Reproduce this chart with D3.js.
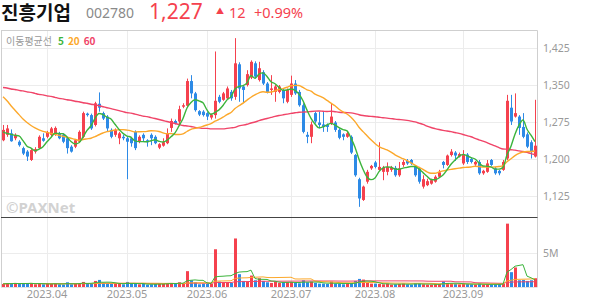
<!DOCTYPE html>
<html>
<head>
<meta charset="utf-8">
<script src="https://cdn.jsdelivr.net/npm/d3@7"></script>
<style>
  body { margin: 0; background: #fff; }
  svg { display: block; font-family: "Noto Sans CJK KR", "Noto Sans", sans-serif; }
</style>
</head>
<body>
<div id="wrapper"></div>
<script>
// 1. data
const stockName = "진흥기업"
const stockCode = "002780"
const lastPrice = "1,227"
const change = "12"
const changePct = "+0.99%"

const startDate = "2023-03-17"
const endDate = "2023-09-27"
const holidays = ["2023-05-01", "2023-05-05", "2023-05-29", "2023-06-06", "2023-08-15"]

const openPrices = [1238,1249,1252,1242,1235,1222,1215,1198,1215,1222,1242,1245,1249,1249,1252,1249,1242,1225,1225,1235,
  1245,1292,1289,1269,1312,1293,1286,1259,1249,1242,1245,1242,1242,1255,1235,1249,1238,1249,1245,1223,
  1227,1232,1263,1277,1276,1306,1308,1358,1333,1297,1296,1293,1284,1289,1326,1320,1323,1336,1326,1392,
  1347,1350,1365,1394,1360,1376,1353,1340,1336,1336,1340,1316,1330,1353,1336,1309,1249,1245,1293,1274,
  1270,1269,1272,1274,1259,1250,1245,1245,1208,1159,1117,1154,1181,1193,1178,1174,1174,1178,1182,1167,
  1188,1196,1198,1184,1181,1144,1147,1150,1154,1164,1194,1188,1208,1213,1205,1191,1209,1200,1189,1194,
  1171,1174,1198,1181,1176,1178,1201,1304,1286,1286,1265,1250,1234,1205]
const highPrices = [1269,1269,1260,1252,1238,1225,1218,1220,1224,1248,1252,1257,1265,1266,1255,1252,1245,1228,1240,1258,
  1296,1294,1292,1316,1335,1296,1289,1262,1262,1255,1249,1245,1245,1258,1248,1252,1240,1252,1248,1232,
  1242,1262,1282,1280,1308,1313,1363,1370,1336,1299,1299,1295,1292,1418,1330,1336,1347,1340,1445,1396,
  1350,1380,1400,1398,1397,1380,1356,1370,1350,1350,1343,1343,1369,1360,1340,1313,1255,1276,1296,1296,
  1296,1272,1313,1277,1262,1252,1255,1248,1210,1162,1146,1178,1188,1196,1234,1186,1193,1186,1186,1194,
  1198,1200,1200,1186,1184,1167,1160,1160,1167,1178,1196,1209,1220,1216,1213,1218,1212,1203,1196,1198,
  1178,1198,1200,1184,1178,1198,1330,1330,1333,1289,1293,1254,1238,1320]
const lowPrices = [1236,1245,1235,1238,1225,1208,1196,1196,1211,1220,1235,1242,1245,1247,1240,1232,1211,1213,1222,1233,
  1242,1286,1259,1266,1296,1279,1255,1242,1245,1230,1238,1159,1225,1218,1232,1235,1225,1228,1230,1220,
  1225,1230,1255,1270,1270,1303,1305,1323,1296,1287,1286,1279,1280,1282,1313,1318,1320,1318,1320,1316,
  1313,1347,1362,1363,1357,1350,1333,1330,1316,1333,1313,1313,1326,1330,1306,1252,1232,1232,1272,1262,
  1255,1255,1269,1255,1240,1238,1243,1210,1164,1103,1115,1150,1178,1181,1176,1157,1167,1174,1164,1164,
  1184,1188,1188,1164,1150,1140,1145,1148,1152,1162,1181,1186,1205,1196,1203,1188,1190,1191,1186,1168,
  1168,1172,1186,1168,1167,1176,1198,1269,1284,1249,1242,1222,1201,1203]
const closePrices = [1259,1262,1236,1249,1228,1211,1205,1218,1220,1245,1237,1254,1262,1263,1242,1235,1222,1215,1238,1255,
  1293,1289,1262,1313,1304,1282,1262,1245,1259,1252,1242,1235,1232,1222,1245,1242,1234,1242,1232,1230,
  1234,1252,1277,1272,1301,1309,1358,1333,1299,1290,1289,1286,1289,1318,1316,1333,1343,1323,1394,1343,
  1340,1372,1397,1367,1384,1353,1336,1343,1347,1347,1323,1340,1353,1333,1309,1255,1245,1270,1276,1269,
  1265,1265,1286,1259,1243,1245,1252,1213,1167,1120,1144,1174,1186,1184,1184,1182,1184,1182,1167,1181,
  1194,1191,1191,1167,1154,1159,1155,1157,1164,1173,1188,1207,1215,1207,1210,1208,1194,1194,1194,1171,
  1176,1191,1188,1171,1171,1194,1318,1276,1293,1263,1245,1225,1215,1227]
// volume, millions of shares
const volumes = [0.45,0.55,0.5,0.6,0.45,0.5,0.55,0.6,0.4,0.5,0.4,
  0.45,0.5,0.55,0.4,0.35,0.7,0.4,0.5,0.55,0.75,
  0.45,0.5,0.9,1.05,0.6,0.55,0.45,0.5,0.55,0.4,
  0.75,0.45,0.5,0.4,0.45,0.35,0.4,0.45,0.5,0.45,
  0.55,0.6,0.45,0.7,0.5,2.35,1.0,0.7,0.4,0.5,
  0.45,0.5,5.6,0.8,0.65,0.7,0.6,7.2,1.9,0.9,
  0.8,1.7,1.0,1.3,0.9,0.7,0.6,0.8,0.6,0.7,
  0.7,0.75,0.6,0.55,1.0,0.7,0.8,0.6,0.5,0.5,
  0.45,0.8,0.5,0.45,0.4,0.5,0.6,0.9,1.2,1.1,
  0.6,0.5,0.5,0.45,0.4,0.5,0.35,0.4,0.45,0.5,
  0.4,0.35,0.55,0.5,0.4,0.35,0.35,0.4,0.45,0.8,
  0.6,0.5,0.45,0.4,0.5,0.45,0.4,0.35,0.5,0.35,
  0.4,0.35,0.4,0.45,0.5,9.4,2.2,2.9,1.0,1.05,
  0.9,1.0,1.3]

// moving-average values before their window fills (history is off the chart)
const ma5Head = [1255,1252,1250,1248]
const ma20Head = [1326,1318,1308,1299,1290,1281,1274,1268,1263,1259,1256,1254,1252,1250,1248,1246,1244,1242,1240]
const ma60Head = [1345,1344,1342,1341,1339,1338,1336,1335,1333,1331,1330,1328,1327,1325,1323,1322,1320,1319,1317,1316,
  1314,1313,1311,1310,1308,1306,1304,1302,1300,1298,1296,1294,1293,1291,1289,1287,1286,1284,1282,1280,
  1278,1276,1274,1272,1270,1268,1267,1266,1264,1263,1262,1262,1261,1261,1261,1261,1262,1263,1264]

const priceTicks = [1125, 1200, 1275, 1350, 1425]
const volumeTicks = [5]

const maColors = { 5: "#3cb43c", 20: "#fca82b", 60: "#f04468" }
const upColor = "#f5414e"
const downColor = "#2d8ae6"

// trading calendar
const parseDay = d3.timeParse("%Y-%m-%d")
const fmtDay = d3.timeFormat("%Y-%m-%d")
const dates = d3.timeDay.range(parseDay(startDate), d3.timeDay.offset(parseDay(endDate), 1))
  .filter(d => d.getDay() > 0 && d.getDay() < 6 && !holidays.includes(fmtDay(d)))

const n = dates.length
const idx = d3.range(n)

function movingAverage(values, k, head) {
  return values.map((v, i) => {
    if (i >= k - 1) return d3.mean(values.slice(i - k + 1, i + 1))
    if (head) return head[i]
    return d3.mean(values.slice(0, i + 1))
  })
}

// 2. dimensions
const dimensions = {
  width: 594,
  height: 304,
  left: 1,
  right: 537,
  priceTop: 31,
  priceBottom: 217,
  volTop: 217,
  volBottom: 287,
}

const wrapper = d3.select("#wrapper")
  .append("svg")
  .attr("width", dimensions.width)
  .attr("height", dimensions.height)

// 3. scales
const xScale = d3.scaleBand()
  .domain(idx)
  .range([dimensions.left, dimensions.right])
const xc = i => xScale(i) + xScale.bandwidth() / 2

const yScale = d3.scaleLinear()
  .domain([1082.4, 1459.5])
  .range([dimensions.priceBottom, dimensions.priceTop])

const vScale = d3.scaleLinear()
  .domain([0, 5])
  .range([dimensions.volBottom, 253.3])

// month starts
const monthStarts = idx.filter(i => i > 0 && dates[i].getMonth() !== dates[i - 1].getMonth())
const monthFormat = d3.timeFormat("%Y.%m")

// 4. grid
const grid = wrapper.append("g")
grid.selectAll(".hgrid")
  .data(priceTicks)
  .join("line")
  .attr("x1", dimensions.left + 1).attr("x2", dimensions.right)
  .attr("y1", d => Math.round(yScale(d)) + 0.5).attr("y2", d => Math.round(yScale(d)) + 0.5)
  .attr("stroke", "#ececec")
grid.selectAll(".vgridv")
  .data(volumeTicks)
  .join("line")
  .attr("x1", dimensions.left + 1).attr("x2", dimensions.right)
  .attr("y1", d => Math.round(vScale(d)) + 0.5).attr("y2", d => Math.round(vScale(d)) + 0.5)
  .attr("stroke", "#ececec")
grid.selectAll(".vgrid")
  .data(monthStarts)
  .join("line")
  .attr("x1", d => Math.round(xc(d)) + 0.5).attr("x2", d => Math.round(xc(d)) + 0.5)
  .attr("y1", dimensions.priceTop).attr("y2", dimensions.volBottom)
  .attr("stroke", "#ececec")

// frame
wrapper.append("line")
  .attr("x1", dimensions.left).attr("x2", dimensions.right + 0.5)
  .attr("y1", dimensions.priceTop - 0.5).attr("y2", dimensions.priceTop - 0.5)
  .attr("stroke", "#cfcfcf")
wrapper.append("line")
  .attr("x1", dimensions.left + 0.5).attr("x2", dimensions.left + 0.5)
  .attr("y1", dimensions.priceTop - 0.5).attr("y2", dimensions.volBottom)
  .attr("stroke", "#cfcfcf")
wrapper.append("line")
  .attr("x1", dimensions.right + 0.5).attr("x2", dimensions.right + 0.5)
  .attr("y1", dimensions.priceTop - 0.5).attr("y2", dimensions.volBottom)
  .attr("stroke", "#cfcfcf")
wrapper.append("line")
  .attr("x1", dimensions.left).attr("x2", dimensions.right + 0.5)
  .attr("y1", dimensions.volBottom + 0.5).attr("y2", dimensions.volBottom + 0.5)
  .attr("stroke", "#e2e2e2")

// watermark
wrapper.append("text")
  .attr("x", 6).attr("y", 213)
  .attr("fill", "#d2d2d2")
  .style("font-family", "'Noto Sans', sans-serif")
  .style("font-size", "15px")
  .style("font-weight", "bold")
  .text("©PAXNet")

// 5. candles
const candles = wrapper.append("g")
const colorOf = i => closePrices[i] >= openPrices[i] ? upColor : downColor

candles.selectAll(".wick")
  .data(idx)
  .join("line")
  .attr("x1", i => Math.round(xc(i)) + 0.5).attr("x2", i => Math.round(xc(i)) + 0.5)
  .attr("y1", i => yScale(highPrices[i])).attr("y2", i => yScale(lowPrices[i]))
  .attr("stroke", colorOf)
  .attr("stroke-width", 1)

candles.selectAll(".body")
  .data(idx)
  .join("rect")
  .attr("x", i => Math.round(xc(i)) - 1)
  .attr("width", 3)
  .attr("y", i => yScale(Math.max(openPrices[i], closePrices[i])))
  .attr("height", i => Math.max(1, Math.abs(yScale(openPrices[i]) - yScale(closePrices[i]))))
  .attr("fill", colorOf)

// moving averages
const priceMAs = [
  { k: 60, values: movingAverage(closePrices, 60, ma60Head) },
  { k: 20, values: movingAverage(closePrices, 20, ma20Head) },
  { k: 5, values: movingAverage(closePrices, 5, ma5Head) },
]
const priceLine = d3.line().x((d, i) => xc(i)).y(d => yScale(d)).curve(d3.curveMonotoneX)
wrapper.append("g").selectAll("path")
  .data(priceMAs)
  .join("path")
  .attr("d", d => priceLine(d.values))
  .attr("fill", "none")
  .attr("stroke", d => maColors[d.k])
  .attr("stroke-width", 1.4)

// 6. volume
wrapper.append("g").selectAll("rect")
  .data(idx)
  .join("rect")
  .attr("x", i => Math.round(xc(i)) - 1)
  .attr("width", 3)
  .attr("y", i => vScale(volumes[i]))
  .attr("height", i => dimensions.volBottom - vScale(volumes[i]))
  .attr("fill", colorOf)

const volMAs = [60, 20, 5].map(k => ({ k, values: movingAverage(volumes, k) }))
const volLine = d3.line().x((d, i) => xc(i)).y(d => vScale(d))
wrapper.append("g").selectAll("path")
  .data(volMAs)
  .join("path")
  .attr("d", d => volLine(d.values))
  .attr("fill", "none")
  .attr("stroke", d => maColors[d.k])
  .attr("stroke-width", 1)

// pane separator
wrapper.append("line")
  .attr("x1", dimensions.left).attr("x2", dimensions.right + 0.5)
  .attr("y1", dimensions.volTop + 0.5).attr("y2", dimensions.volTop + 0.5)
  .attr("stroke", "#444")

// 7. axes
const yAxis = wrapper.append("g")
  .attr("transform", `translate(${dimensions.right}, 0)`)
  .call(d3.axisRight(yScale).tickValues(priceTicks).tickFormat(d3.format(",")).tickSize(0).tickPadding(6))
const vAxis = wrapper.append("g")
  .attr("transform", `translate(${dimensions.right}, 0)`)
  .call(d3.axisRight(vScale).tickValues(volumeTicks).tickFormat(d => d + "M").tickSize(0).tickPadding(6))
const xAxis = wrapper.append("g")
  .attr("transform", `translate(0, ${dimensions.volBottom})`)
xAxis.selectAll(".month")
  .data(monthStarts)
  .join("text")
  .attr("x", d => xc(d))
  .attr("y", 11)
  .attr("text-anchor", "middle")
  .text(d => monthFormat(dates[d]))

;[yAxis, vAxis, xAxis].forEach(a => {
  a.select(".domain").remove()
  a.selectAll("text")
    .attr("fill", "#999")
    .style("font-size", "10.5px")
    .style("font-family", "'Noto Sans', sans-serif")
})
xAxis.selectAll("text").style("font-size", "11px")

// 8. header and legend
const header = wrapper.append("g")
header.append("text")
  .attr("x", 1).attr("y", 19.5)
  .style("font-size", "19px").style("font-weight", "bold")
  .attr("fill", "#111")
  .text(stockName)
header.append("text")
  .attr("x", 86).attr("y", 17.5)
  .style("font-size", "14px").style("font-family", "'Noto Sans', sans-serif")
  .attr("fill", "#8a8a8a")
  .text(stockCode)
header.append("text")
  .attr("x", 149).attr("y", 18.5)
  .style("font-size", "21px").style("font-family", "'Noto Sans', sans-serif")
  .attr("fill", upColor)
  .text(lastPrice)
header.append("text")
  .attr("x", 216).attr("y", 14)
  .style("font-size", "8px")
  .attr("fill", upColor)
  .text("▲")
header.append("text")
  .attr("x", 229).attr("y", 17.5)
  .style("font-size", "14.5px").style("font-family", "'Noto Sans', sans-serif")
  .attr("fill", upColor)
  .text(change)
header.append("text")
  .attr("x", 254).attr("y", 17.5)
  .style("font-size", "14.5px").style("font-family", "'Noto Sans', sans-serif")
  .attr("fill", upColor)
  .text(changePct)

const legend = wrapper.append("text")
  .attr("x", 6).attr("y", 45)
  .style("font-size", "10px")
legend.append("tspan").attr("fill", "#999").text("이동평균선")
legend.append("tspan").attr("dx", 6).attr("fill", maColors[5]).style("font-weight", "bold").text("5")
legend.append("tspan").attr("dx", 4).attr("fill", maColors[20]).style("font-weight", "bold").text("20")
legend.append("tspan").attr("dx", 4).attr("fill", maColors[60]).style("font-weight", "bold").text("60")
</script>
</body>
</html>
